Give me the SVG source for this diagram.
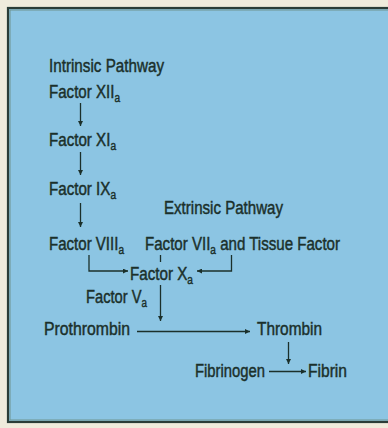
<svg xmlns="http://www.w3.org/2000/svg" width="388" height="428" viewBox="0 0 388 428">
<defs>
<style>
.t{font-family:"Liberation Sans",Arial,sans-serif;font-size:18px;fill:#1b302b;stroke:#1b302b;stroke-width:0.45px;}
.s{font-size:12px;}
.c{fill:none;stroke:#1b302b;stroke-width:1.3;}
</style>
<marker id="ah" viewBox="0 0 10 10" refX="10" refY="5" markerWidth="5" markerHeight="5" markerUnits="userSpaceOnUse" orient="auto">
<path d="M0,0 L10,5 L0,10 Z" fill="#1b302b"/>
</marker>
</defs>
<rect x="0" y="0" width="388" height="428" fill="#efebdc"/>
<rect x="8" y="8" width="392" height="414" fill="#8cc5e3" stroke="#2a3c37" stroke-width="2.2"/>
<rect x="10" y="10" width="392" height="410" fill="none" stroke="#6f9490" stroke-width="1"/>

<g id="connectors">
<line class="c" x1="80.5" y1="103" x2="80.5" y2="126" marker-end="url(#ah)"/>
<line class="c" x1="80.5" y1="152" x2="80.5" y2="175" marker-end="url(#ah)"/>
<line class="c" x1="80.5" y1="203" x2="80.5" y2="227" marker-end="url(#ah)"/>
<path class="c" d="M89,255 V271 H128" marker-end="url(#ah)"/>
<path class="c" d="M231.5,255 V271 H197" marker-end="url(#ah)"/>
<line class="c" x1="160.5" y1="255" x2="160.5" y2="262"/>
<line class="c" x1="160.5" y1="285" x2="160.5" y2="321" marker-end="url(#ah)"/>
<line class="c" x1="137" y1="331.5" x2="250" y2="331.5" marker-end="url(#ah)"/>
<line class="c" x1="288.5" y1="342" x2="288.5" y2="364" marker-end="url(#ah)"/>
<line class="c" x1="269" y1="371.5" x2="306" y2="371.5" marker-end="url(#ah)"/>
</g>

<g id="intrinsic"><text class="t" x="49" y="72" textLength="115" lengthAdjust="spacingAndGlyphs">Intrinsic Pathway</text></g>
<g id="f12"><text class="t" x="49" y="98" textLength="71" lengthAdjust="spacingAndGlyphs">Factor XII<tspan class="s" dy="4">a</tspan></text></g>
<g id="f11"><text class="t" x="49" y="146" textLength="67" lengthAdjust="spacingAndGlyphs">Factor XI<tspan class="s" dy="4">a</tspan></text></g>
<g id="f9"><text class="t" x="49" y="195" textLength="67" lengthAdjust="spacingAndGlyphs">Factor IX<tspan class="s" dy="4">a</tspan></text></g>
<g id="extrinsic"><text class="t" x="164" y="214" textLength="119" lengthAdjust="spacingAndGlyphs">Extrinsic Pathway</text></g>
<g id="f8"><text class="t" x="49" y="250" textLength="75" lengthAdjust="spacingAndGlyphs">Factor VIII<tspan class="s" dy="4">a</tspan></text></g>
<g id="f7"><text class="t" x="145" y="250" textLength="195" lengthAdjust="spacingAndGlyphs">Factor VII<tspan class="s" dy="4">a</tspan><tspan dy="-4"> and Tissue Factor</tspan></text></g>
<g id="f10"><text class="t" x="130" y="280" textLength="63" lengthAdjust="spacingAndGlyphs">Factor X<tspan class="s" dy="4">a</tspan></text></g>
<g id="f5"><text class="t" x="86" y="303" textLength="61" lengthAdjust="spacingAndGlyphs">Factor V<tspan class="s" dy="4">a</tspan></text></g>
<g id="prothrombin"><text class="t" x="44" y="335" textLength="86" lengthAdjust="spacingAndGlyphs">Prothrombin</text></g>
<g id="thrombin"><text class="t" x="257" y="335" textLength="65" lengthAdjust="spacingAndGlyphs">Thrombin</text></g>
<g id="fibrinogen"><text class="t" x="195" y="377" textLength="70" lengthAdjust="spacingAndGlyphs">Fibrinogen</text></g>
<g id="fibrin"><text class="t" x="308" y="377" textLength="39" lengthAdjust="spacingAndGlyphs">Fibrin</text></g>
</svg>
